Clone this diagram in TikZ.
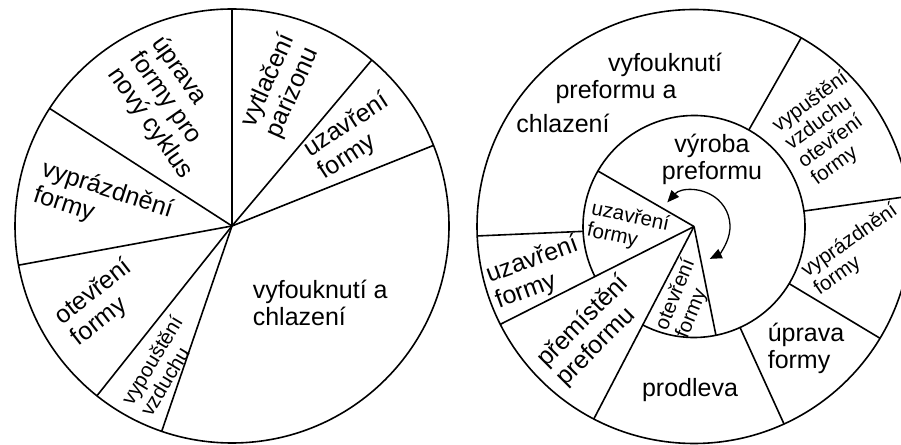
\documentclass[tikz,border=0pt]{standalone}
\usepackage{fontspec}
\setmainfont{Liberation Sans}
\usetikzlibrary{arrows.meta}
\tikzset{
  txt/.style={font=\fontsize{25}{27}\selectfont, align=left, inner sep=0pt},
  smalltxt/.style={font=\fontsize{20.5}{22}\selectfont, align=left, inner sep=0pt},
  cyc/.style={{Triangle[length=12pt,width=10pt]}-{Triangle[length=12pt,width=10pt]}, line width=1.3pt},
}
\begin{document}
\begin{tikzpicture}[x=1pt,y=1pt,line width=1.6pt]
\useasboundingbox (0,0) rectangle (901,444);
\clip (0,0) rectangle (901,444);
% left chart
\coordinate (lc) at (232,218);
\draw (lc) circle[radius=217];
\draw (lc) -- ++(90:217);
\draw (lc) -- ++(49.9:217);
\draw (lc) -- ++(21.8:217);
\draw (lc) -- ++(251.1:217);
\draw (lc) -- ++(231.5:217);
\draw (lc) -- ++(190.4:217);
\draw (lc) -- ++(147.2:217);
\node[txt, rotate=-55] (lupr) at (172,336) {úprava\\formy pro\\nový cyklus};
\node[txt, rotate=66] (lvyt) at (281,358) {vytlačení\\parizonu};
\node[txt, rotate=33] (luza) at (354,307) {uzavření\\formy};
\node[txt, anchor=west] (lvyf) at (252,141) {vyfouknutí a\\chlazení};
\node[smalltxt, rotate=59] (lvyp) at (161,78) {vypouštění\\vzduchu};
\node[txt, rotate=38] (lote) at (102,141) {otevření\\formy};
\node[txt, rotate=-18] (lvypr) at (103,241) {vyprázdnění\\formy};
% right chart
\coordinate (rc) at (694,217.5);
\draw (rc) circle[radius=217];
\draw (rc) ++(242.5:111) arc[start angle=242.5, end angle=566.8, radius=111];
\draw (rc) -- ++(242.5:217);
\draw (rc) -- ++(206.8:217);
\draw (rc) -- ++(150:111);
\draw (rc) -- ++(281.4:111);
\draw (rc) ++(60.4:111) -- ++(60.4:106);
\draw (rc) ++(8:111) -- ++(8:106);
\draw (rc) ++(-31:111) -- ++(-31:106);
\draw (rc) ++(-65.5:111) -- ++(-65.5:106);
\draw (rc) ++(182.5:111) -- ++(182.5:106);
\draw[cyc] (rc) ++(138:36) arc[start angle=138, end angle=-64, radius=36];
\node[txt] (rvyf1) at (665,379) {vyfouknutí};
\node[txt] (rvyf2) at (616,352) {preformu a};
\node[txt] (rvyf3) at (563,321) {chlazení};
\node[txt, align=center] (rvyr) at (712,285) {výroba\\preformu};
\node[smalltxt, rotate=36] (rvyp) at (830,315) {vypuštění\\vzduchu\\otevření\\formy};
\node[smalltxt, rotate=35] (rvypr) at (856,194) {vyprázdnění\\formy};
\node[txt, anchor=west] (rupr) at (767,96) {úprava\\formy};
\node[txt] (rpro) at (690,54) {prodleva};
\node[txt, rotate=45] (rpre) at (593,113) {přemístění\\preformu};
\node[txt, rotate=20] (ruza) at (537,171) {uzavření\\formy};
\node[smalltxt, rotate=68] (rote) at (686,145) {otevření\\formy};
\node[smalltxt, rotate=-12] (ruzi) at (628,216) {uzavření\\formy};
\end{tikzpicture}
\end{document}
